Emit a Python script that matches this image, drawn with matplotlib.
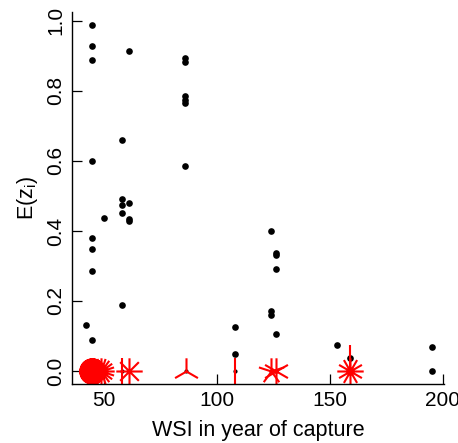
import numpy as np
import matplotlib
matplotlib.use("Agg")
import matplotlib.pyplot as plt
from matplotlib.path import Path

plt.rcParams['font.family'] = ['Liberation Sans', 'DejaVu Sans']

# single observations (black dots)
pt_x = [44.8, 44.8, 44.8, 44.8, 44.8, 44.8, 44.8, 44.8, 41.9, 50.0,
        58.1, 58.1, 58.1, 58.1, 58.1, 61.1, 61.1, 61.1, 61.1,
        86.0, 86.0, 86.0, 86.0, 86.0, 86.0, 108.0, 108.0,
        124.0, 124.0, 124.0, 126.1, 126.1, 126.1, 126.1,
        153.0, 158.8, 195.0, 195.0]
pt_y = [0.988, 0.927, 0.887, 0.601, 0.380, 0.349, 0.287, 0.089, 0.131, 0.437,
        0.661, 0.492, 0.475, 0.452, 0.188, 0.915, 0.480, 0.433, 0.427,
        0.895, 0.882, 0.784, 0.774, 0.766, 0.586, 0.126, 0.048,
        0.400, 0.171, 0.160, 0.337, 0.330, 0.291, 0.105,
        0.074, 0.038, 0.069, 0.001]

# repeated observations (sunflowers): location and count
fl_x = [44.8, 48.8, 58.1, 61.1, 86.3, 108.0, 124.0, 126.0, 158.8, 158.8]
fl_y = [0.0, 0.0, 0.0, 0.0, 0.0, 0.0, 0.0, 0.0, 0.0, 0.038]
fl_n = [64, 20, 2, 8, 3, 2, 5, 6, 12, 2]

xticks = [50, 100, 150, 200]
yticks = [0.0, 0.2, 0.4, 0.6, 0.8, 1.0]


def petals(n):
    # like R sunflowerplot: segments at angle 2*pi*k/n from vertical
    verts, codes = [], []
    for k in range(1, n + 1):
        a = 2 * np.pi * k / n
        verts += [(0, 0), (np.sin(a), np.cos(a))]
        codes += [Path.MOVETO, Path.LINETO]
    return Path(verts, codes)


fig = plt.figure(figsize=(4.58, 4.43), dpi=100)
ax = fig.add_axes([0.157, 0.1332, 0.812, 0.84])

ax.plot(pt_x, pt_y, ls='none', marker='o', ms=4.8, mfc='black', mec='none')
ax.plot(fl_x, fl_y, ls='none', marker='o', ms=3.0, mfc='black', mec='none')
for x, y, n in zip(fl_x, fl_y, fl_n):
    ax.plot([x], [y], ls='none', marker=petals(n), ms=19, mec='red',
            mfc='none', mew=1.5)

ax.set_xlim(35.84, 200.4)
ax.set_ylim(-0.0371, 1.0257)
ax.set_xticks(xticks)
ax.set_yticks(yticks)
ax.set_xticklabels([str(v) for v in xticks])
ax.set_yticklabels(['%.1f' % v for v in yticks], rotation=90, va='center')
ax.tick_params(direction='in', length=7.2, width=0.9, labelsize=15, pad=5)
ax.tick_params(axis='y', pad=5)
for s in ['top', 'right']:
    ax.spines[s].set_visible(False)
for s in ['left', 'bottom']:
    ax.spines[s].set_linewidth(1.0)

ax.set_xlabel('WSI in year of capture', fontsize=15.5, labelpad=7)
ax.set_ylabel(r'E(z$_\mathregular{i}$)', fontsize=15.5, labelpad=4)

fig.savefig('out.png', dpi=100)
